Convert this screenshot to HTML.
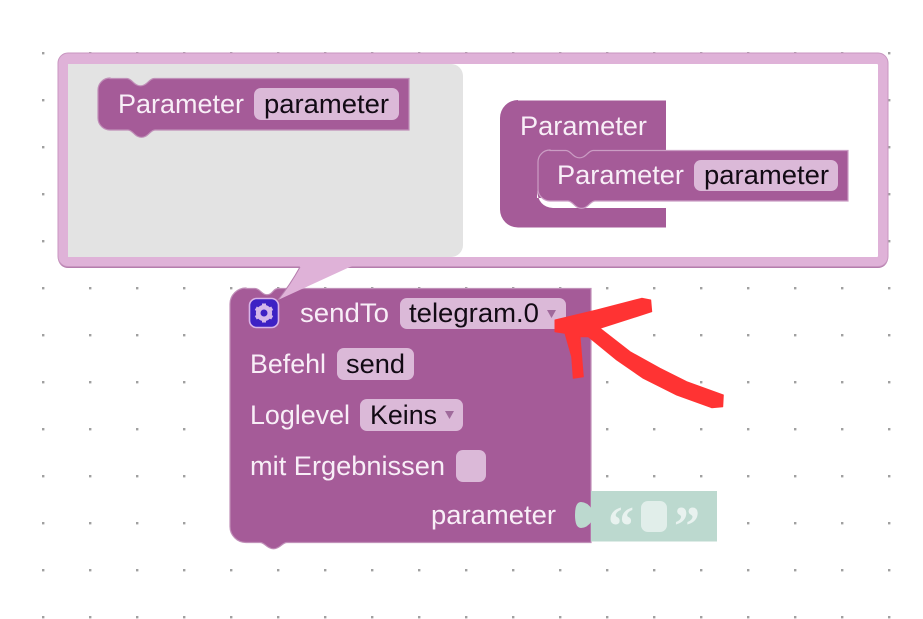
<!DOCTYPE html>
<html>
<head>
<meta charset="utf-8">
<style>
html,body{margin:0;padding:0;background:#fff;width:923px;height:619px;overflow:hidden}
svg{display:block}
text{font-family:"Liberation Sans",sans-serif;font-size:27px}
.w{fill:#f8eef7}
.k{fill:#120a14}
.f{fill:#dbb9d8}
.b{fill:#a55b98;stroke:#c08fb8;stroke-width:1.2}
</style>
</head>
<body>
<svg width="923" height="619" viewBox="0 0 923 619" xmlns="http://www.w3.org/2000/svg">
<defs>
<pattern id="g" x="19" y="29" width="47" height="47" patternUnits="userSpaceOnUse">
<rect x="23" y="23" width="2.4" height="2.4" fill="#a0a0a0"/>
</pattern>
</defs>
<rect y="45" width="923" height="574" fill="url(#g)"/>

<!-- bubble -->
<rect x="58" y="54" width="830" height="214" rx="10" fill="#b57dad"/>
<rect x="58" y="53" width="830" height="213.500" rx="10" fill="#dfb2d8" stroke="#c896c0" stroke-width="1"/>
<rect x="68" y="64" width="810" height="193" rx="1" fill="#fff"/>
<path d="M68 64H451a12 12 0 0 1 12 12V245a12 12 0 0 1 -12 12H68Z" fill="#e3e3e3"/>

<!-- small block 1 -->
<path class="b" d="M110 78.500H127c4 0 6 5 10 6.500c2 1 5 1 7 0c4-1.500 6-6.500 10-6.500H409V130H155c-4 0-6 5-10 6.500c-2 1-5 1-7 0c-4-1.500-6-6.500-10-6.500H110a12 12 0 0 1 -12-12V90a12 12 0 0 1 12-12Z"/>
<text class="w" x="118" y="113" textLength="126" lengthAdjust="spacingAndGlyphs">Parameter</text>
<rect class="f" x="254" y="88" width="145" height="32" rx="7"/>
<text class="k" x="264" y="113" textLength="125" lengthAdjust="spacingAndGlyphs">parameter</text>

<!-- statement block -->
<path d="M518 100.500H666V150H600V208H666V227.500H518a18 18 0 0 1 -18-18V118a18 18 0 0 1 18-18Z" fill="#a55b98"/>
<text class="w" x="520" y="135" textLength="127" lengthAdjust="spacingAndGlyphs">Parameter</text>
<path d="M537 190Q538 207 553 208H666V198H537Z" fill="#fff"/>
<path d="M550 150.500H566c4 0 6 5 10 6.500c2 1 5 1 7 0c4-1.500 6-6.500 10-6.500H848V201H595c-4 0-6 5-10 6.500c-2 1-5 1-7 0c-4-1.500-6-6.500-10-6.500H550a12 12 0 0 1 -12-12V162a12 12 0 0 1 12-12Z" fill="#a55b98" stroke="#cb9dc4" stroke-width="1.200"/>
<text class="w" x="557" y="184" textLength="127" lengthAdjust="spacingAndGlyphs">Parameter</text>
<rect class="f" x="694" y="160" width="144" height="31" rx="7"/>
<text class="k" x="704" y="184" textLength="125" lengthAdjust="spacingAndGlyphs">parameter</text>

<!-- main block -->
<path class="b" d="M246 288.500H255c4 0 6 4 9 5.500c2 1 4 1 6 0c3-1.500 4-5.500 8-5.500H591V542.500H287c-4 0-6 4-10 5.500c-2 1-5 1-7 0c-4-1.500-6-5.500-10-5.500H246a16 16 0 0 1 -16-16V304a16 16 0 0 1 16-16Z"/>

<!-- bubble tail -->
<path d="M300 266H352L278 300Q290 285 300 266Z" fill="#dfb2d8"/>
<path d="M300 267Q290 285 278 300" fill="none" stroke="#b57dad" stroke-width="1"/>

<!-- gear -->
<rect x="249.500" y="298.500" width="29" height="29" rx="7" fill="#3d21c4" stroke="#d9b3e8" stroke-width="1.600"/>
<circle cx="264" cy="313" r="5.800" fill="none" stroke="#d4b6ea" stroke-width="4.600"/>
<g stroke="#d4b6ea" stroke-width="4">
<path d="M264 303.500V307M264 319V322.500M255.800 308.300L258.800 310M269.200 316L272.200 317.700M255.800 317.700L258.800 316M269.200 310L272.200 308.300"/>
</g>

<text class="w" x="300" y="322" textLength="89" lengthAdjust="spacingAndGlyphs">sendTo</text>
<rect class="f" x="400" y="298" width="166" height="31" rx="7"/>
<text class="k" x="409" y="322" textLength="130" lengthAdjust="spacingAndGlyphs">telegram.0</text>
<path d="M547 310H556L551.500 318Z" fill="#a06a9c"/>

<text class="w" x="250" y="373" textLength="76" lengthAdjust="spacingAndGlyphs">Befehl</text>
<rect class="f" x="337" y="348" width="77" height="32" rx="7"/>
<text class="k" x="346" y="373" textLength="59" lengthAdjust="spacingAndGlyphs">send</text>

<text class="w" x="250" y="424" textLength="100" lengthAdjust="spacingAndGlyphs">Loglevel</text>
<rect class="f" x="360" y="399" width="103" height="32" rx="7"/>
<text class="k" x="370" y="424" textLength="67" lengthAdjust="spacingAndGlyphs">Keins</text>
<path d="M445 411H454L449.500 419Z" fill="#a06a9c"/>

<text class="w" x="250" y="475" textLength="195" lengthAdjust="spacingAndGlyphs">mit Ergebnissen</text>
<rect class="f" x="456" y="450" width="30" height="32" rx="7"/>

<text class="w" x="431" y="524" textLength="125" lengthAdjust="spacingAndGlyphs">parameter</text>

<!-- text block -->
<path d="M591 491H717V541.500H591Z" fill="#bcd9cf"/>
<path d="M592 509Q587 502 581 502Q575 502 575 515Q575 528 581 528Q587 528 592 521Z" fill="#bcd9cf"/>
<rect x="641" y="501" width="26" height="31" rx="7" fill="#e1eeea"/>
<text x="608" y="545" style="font-size:56px;font-family:'Liberation Serif',serif;font-weight:bold" fill="#e8f2ef" textLength="26" lengthAdjust="spacingAndGlyphs">“</text>
<text x="674" y="545" style="font-size:56px;font-family:'Liberation Serif',serif;font-weight:bold" fill="#e8f2ef" textLength="26" lengthAdjust="spacingAndGlyphs">”</text>

<!-- red arrow -->
<path d="M641.700 298.300L650.700 300L651.700 311.700L600 328.300L630 351.700L660 368.300L686.700 381.700L723.300 395L722.700 406.700L711.700 407.700L676.700 395L643.300 378.300L616.700 360L588.300 336.700L580 336.700L583.300 376.700L573.300 378.300L571.700 356.700L565 333.300L555 331.700L555 320L596.700 310Z" fill="#ff3333" stroke="#ff3333" stroke-width="1" stroke-linejoin="round"/>
</svg>
</body>
</html>
